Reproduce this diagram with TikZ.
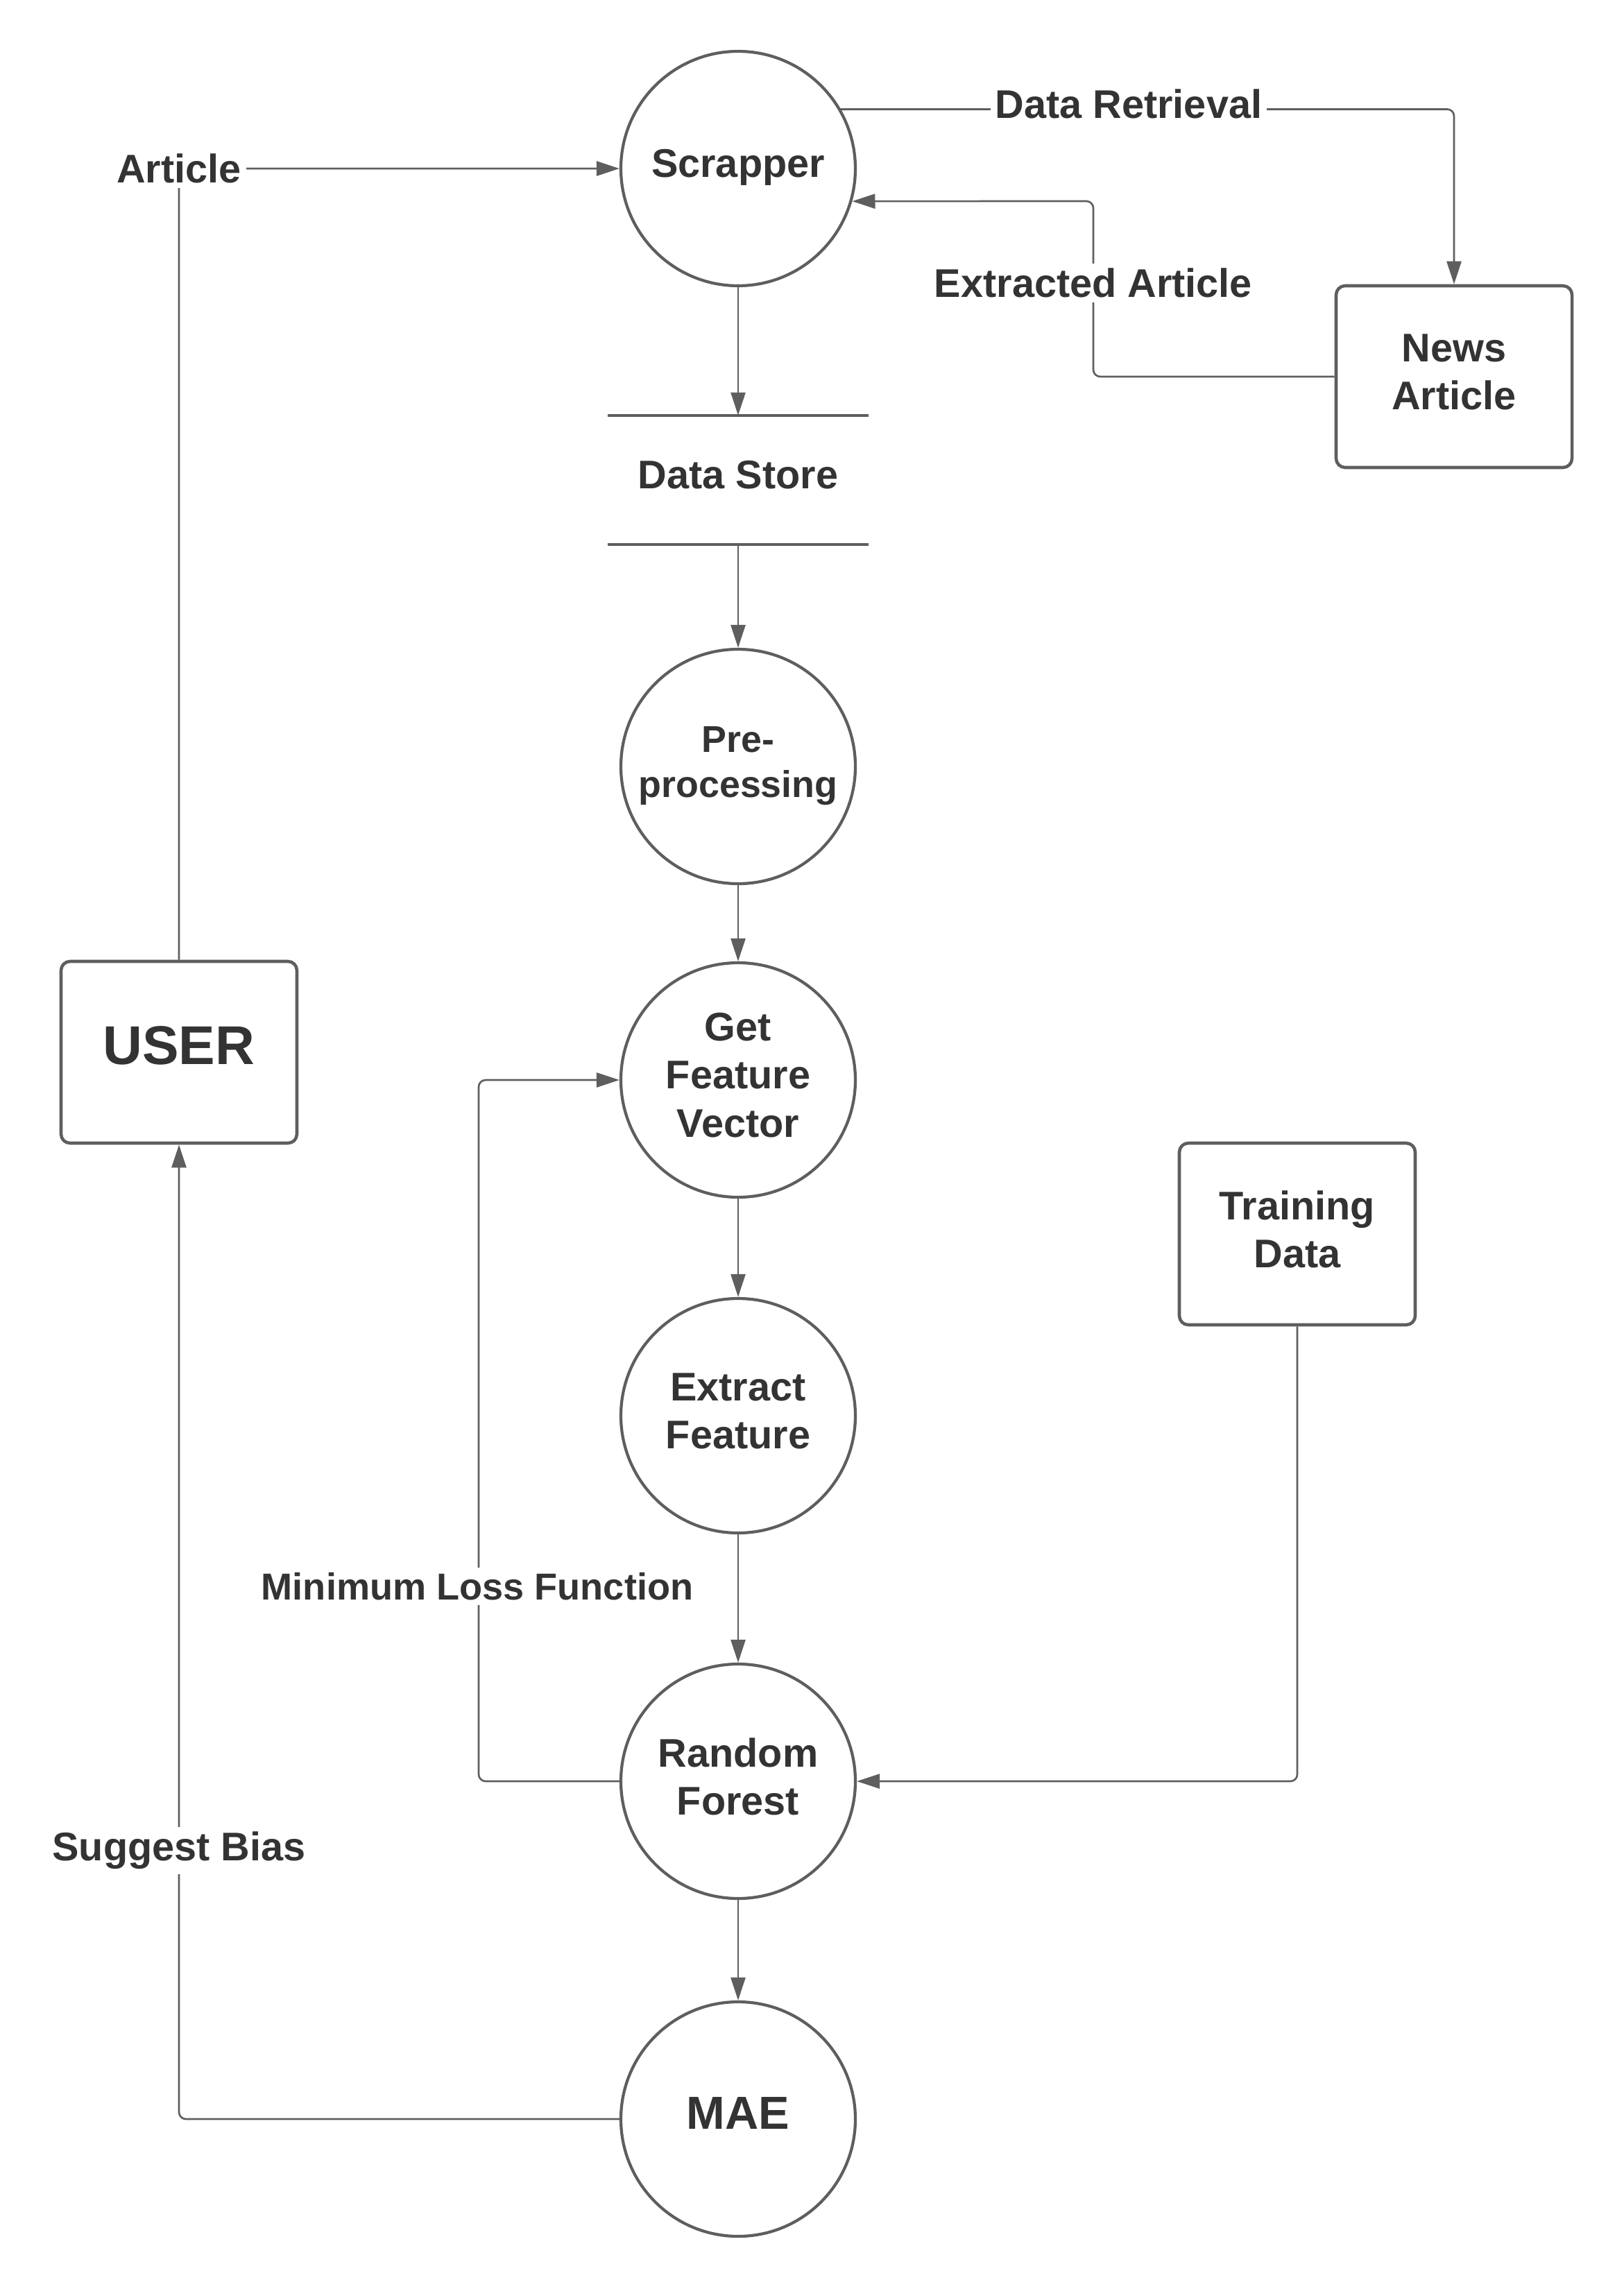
\documentclass[tikz,border=0pt]{standalone}
\usepackage{fontspec}
\setmainfont{Liberation Sans}
\usepackage{xcolor}
\usetikzlibrary{
    arrows.meta,
    calc,
    positioning
}
\definecolor{linegray}{HTML}{5E5E5E}
\definecolor{textgray}{HTML}{333333}
\newcommand{\lblfont}{\fontsize{16.4}{19.7}\selectfont\bfseries}
\newcommand{\lowstrut}{\rule[-0.25em]{0pt}{0pt}}

\begin{document}
\begin{tikzpicture}[
    >={Triangle[length=0.33cm,width=0.21cm]},
    proc/.style={circle, draw=linegray, line width=1.2pt, minimum size=3.38cm,
        inner sep=0pt, align=center, text=textgray, font=\lblfont,
        execute at end node=\lowstrut},
    entity/.style={rectangle, rounded corners=0.13cm, draw=linegray, line width=1.3pt,
        minimum width=3.4cm, minimum height=2.62cm, align=center, text=textgray, font=\lblfont,
        execute at end node=\lowstrut},
    datastore/.style={minimum width=3.75cm, minimum height=1.85cm, text=textgray, font=\lblfont,
        execute at end node=\lowstrut},
    flow/.style={->, draw=linegray, line width=0.75pt, rounded corners=0.1cm},
    lbl/.style={fill=white, inner sep=2pt, text=textgray, font=\lblfont}
]
    \useasboundingbox (0,0) rectangle (23.4,-33);

    % processes
    \node[proc] (scr) at (10.64, -2.43) {Scrapper};
    \node[datastore] (store) at (10.64, -6.92) {Data Store};
    \node[proc, font=\fontsize{15.3}{18.6}\selectfont\bfseries] (pre) at (10.64, -11.05) {Pre-\\processing};
    \node[proc] (gfv) at (10.64, -15.57) {Get\\Feature\\Vector};
    \node[proc] (ext) at (10.64, -20.41) {Extract\\Feature};
    \node[proc] (rf) at (10.64, -25.68) {Random\\Forest};
    \node[proc, font=\fontsize{19}{23}\selectfont\bfseries] (mae) at (10.64, -30.55) {MAE};

    % entities
    \node[entity, font=\fontsize{22.4}{27}\selectfont\bfseries] (user) at (2.58, -15.17) {USER};
    \node[entity] (news) at (20.96, -5.43) {News\\Article};
    \node[entity] (train) at (18.70, -17.79) {Training\\Data};

    \draw[linegray, line width=1.3pt]
        (store.north west) -- (store.north east)
        (store.south west) -- (store.south east);

    \coordinate (ea) at (15.76, -2.90);
    \coordinate (ml) at (6.90, -15.57);

    % flows
    \draw[flow] (user.north) |- (scr.west);
    \draw[flow] (scr.30) -| (news.north);
    \draw[flow] (news.west) -| (ea) -- (scr.-16);
    \draw[flow] (scr) -- (store.north);
    \draw[flow] (store.south) -- (pre);
    \draw[flow] (pre) -- (gfv);
    \draw[flow] (gfv) -- (ext);
    \draw[flow] (ext) -- (rf);
    \draw[flow] (rf) -- (mae);
    \draw[flow] (rf.west) -| (ml) -- (gfv.west);
    \draw[flow] (train.south) |- (rf.east);
    \draw[flow] (mae.west) -| (user.south);

    % labels
    \node[lbl] (article) at (2.58, -2.43) {Article};
    \node[lbl] (retrieval) at (16.27, -1.50) {Data Retrieval};
    \node[lbl] (extracted) at (15.76, -4.08) {Extracted Article};
    \node[lbl, font=\fontsize{15.4}{18.5}\selectfont\bfseries] (minloss) at (6.88, -22.87) {Minimum Loss Function};
    \node[lbl] (bias) at (2.58, -26.68) {Suggest Bias};
\end{tikzpicture}
\end{document}
